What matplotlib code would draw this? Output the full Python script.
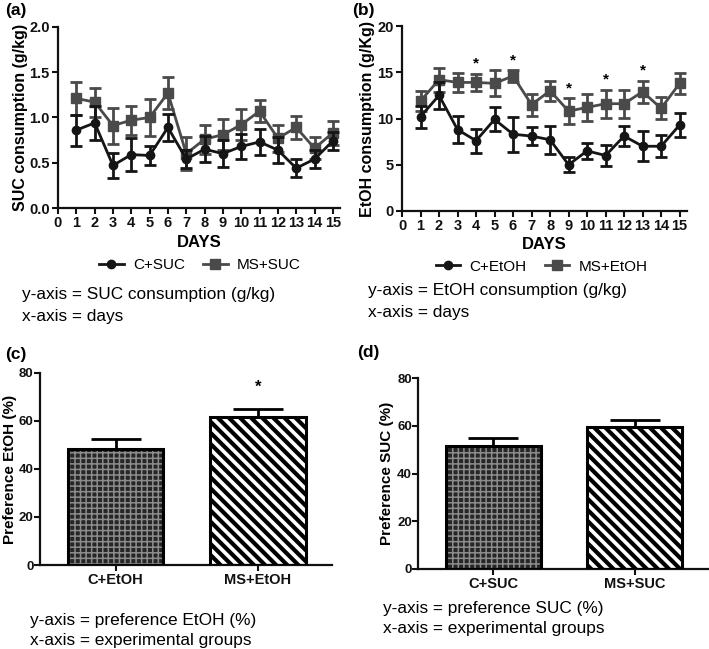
import numpy as np
import matplotlib
matplotlib.use('Agg')
import matplotlib.pyplot as plt
from matplotlib.lines import Line2D

plt.rcParams['font.family'] = ['Liberation Sans', 'DejaVu Sans']

days = np.arange(1, 16)

# (a) sucrose consumption (g/kg)
suc_c_mean = [0.86, 0.94, 0.47, 0.59, 0.58, 0.89, 0.54, 0.65, 0.60, 0.68, 0.73, 0.64, 0.44, 0.54, 0.74]
suc_c_err = [0.17, 0.19, 0.14, 0.18, 0.11, 0.15, 0.10, 0.14, 0.15, 0.14, 0.14, 0.14, 0.10, 0.10, 0.10]
suc_ms_mean = [1.21, 1.17, 0.91, 0.97, 1.00, 1.27, 0.60, 0.76, 0.81, 0.92, 1.07, 0.77, 0.89, 0.66, 0.83]
suc_ms_err = [0.18, 0.16, 0.20, 0.16, 0.20, 0.18, 0.18, 0.16, 0.17, 0.17, 0.12, 0.15, 0.13, 0.12, 0.13]

# (b) ethanol consumption (g/kg)
etoh_c_mean = [10.2, 12.5, 8.8, 7.6, 9.9, 8.3, 8.1, 7.7, 5.0, 6.5, 6.0, 8.1, 7.0, 7.0, 9.3]
etoh_c_err = [1.2, 1.5, 1.5, 1.3, 1.3, 1.9, 1.0, 1.5, 0.8, 0.9, 1.1, 1.1, 1.6, 1.2, 1.3]
etoh_ms_mean = [11.9, 14.2, 13.9, 13.9, 13.8, 14.6, 11.5, 13.0, 10.8, 11.2, 11.6, 11.6, 12.9, 11.1, 13.8]
etoh_ms_err = [1.1, 1.3, 1.0, 0.9, 1.4, 0.6, 1.2, 1.1, 1.4, 1.5, 1.5, 1.5, 1.2, 1.2, 1.1]
etoh_star_days = [4, 6, 9, 11, 13]

# (c) / (d) preference (%)
pref_etoh_groups = ['C+EtOH', 'MS+EtOH']
pref_etoh_mean = [48.3, 61.5]
pref_etoh_err = [4.1, 3.5]
pref_etoh_star = [False, True]

pref_suc_groups = ['C+SUC', 'MS+SUC']
pref_suc_mean = [51.4, 59.5]
pref_suc_err = [3.5, 3.1]

C_COL = '#151515'
MS_COL = '#4a4a4a'


def style_axes(ax, labelsize=11, ypad=2):
    for s in ['top', 'right']:
        ax.spines[s].set_visible(False)
    for s in ['left', 'bottom']:
        ax.spines[s].set_linewidth(1.6)
        ax.spines[s].set_color('#111111')
    ax.tick_params(width=1.5, length=4, labelsize=labelsize, colors='#111111', pad=2)
    ax.tick_params(axis='y', pad=ypad)
    for lab in ax.get_xticklabels() + ax.get_yticklabels():
        lab.set_fontweight('bold')


def line_panel(ax, c_mean, c_err, ms_mean, ms_err, ylim, yticks, yfmt, ylabel, labels,
               legend_xy, label_x):
    ax.errorbar(days, c_mean, yerr=c_err, color=C_COL, marker='o', ms=6, lw=2,
                elinewidth=2, capsize=4, capthick=2, zorder=3)
    ax.errorbar(days, ms_mean, yerr=ms_err, color=MS_COL, marker='s', ms=6.5, lw=2,
                elinewidth=2, capsize=4, capthick=2, zorder=2)
    ax.set_xlim(0, 15.4)
    ax.set_ylim(*ylim)
    ax.set_xticks(np.arange(0, 16))
    ax.set_yticks(yticks)
    ax.set_yticklabels([yfmt.format(v) for v in yticks])
    ax.set_xlabel('DAYS', fontsize=12, fontweight='bold', labelpad=3)
    ax.set_ylabel(ylabel, fontsize=11.5, fontweight='bold')
    ax.yaxis.set_label_coords(label_x, 0.5)
    style_axes(ax, labelsize=10.5)
    handles = [Line2D([], [], color=C_COL, marker='o', ms=6, lw=2),
               Line2D([], [], color=MS_COL, marker='s', ms=6.5, lw=2)]
    fig.legend(handles, labels, loc='center', bbox_to_anchor=legend_xy, ncol=2,
               frameon=False, fontsize=11, handlelength=1.6, columnspacing=1.2,
               handletextpad=0.6)


def bar_panel(ax, groups, mean, err, ylabel, label_x, stars=None):
    x = np.arange(len(groups))
    # brick-like textured bar, then striped bar
    tex = ax.bar(x[0], mean[0], width=0.67, color='#262626', edgecolor='#8c8c8c',
                 hatch='+++', linewidth=0, zorder=2)
    stripe = ax.bar(x[1], mean[1], width=0.67, color='white', edgecolor='black',
                    hatch='\\\\\\', linewidth=0, zorder=2)
    for p in tex:
        if hasattr(p, 'set_hatch_linewidth'):
            p.set_hatch_linewidth(1.1)
    for p in stripe:
        if hasattr(p, 'set_hatch_linewidth'):
            p.set_hatch_linewidth(3.0)
    ax.bar(x, mean, width=0.67, fill=False, edgecolor='black', linewidth=2.2, zorder=3)
    ax.errorbar(x, mean, yerr=[np.zeros(len(x)), err], fmt='none', ecolor='black',
                elinewidth=2, capsize=18, capthick=2, zorder=1)
    if stars:
        for xi, m, e, st in zip(x, mean, err, stars):
            if st:
                ax.text(xi, m + e + 9, '*', ha='center', va='center', fontsize=12,
                        fontweight='bold')
    ax.set_xlim(-0.53, 1.52)
    ax.set_ylim(0, 80)
    ax.set_yticks([0, 20, 40, 60, 80])
    ax.set_xticks(x)
    ax.set_xticklabels(groups)
    ax.set_ylabel(ylabel, fontsize=11, fontweight='bold')
    ax.yaxis.set_label_coords(label_x, 0.5)
    style_axes(ax, labelsize=10.5, ypad=0.5)
    for lab in ax.get_yticklabels():
        lab.set_fontsize(9.5)


plt.rcParams['hatch.linewidth'] = 2.5
fig = plt.figure(figsize=(7.09, 6.49), dpi=100)

ax_a = fig.add_axes([0.0818, 0.6795, 0.398, 0.279])
line_panel(ax_a, suc_c_mean, suc_c_err, suc_ms_mean, suc_ms_err, (0, 2.0),
           [0.0, 0.5, 1.0, 1.5, 2.0], '{:.1f}', 'SUC consumption (g/kg)',
           ['C+SUC', 'MS+SUC'], (0.282, 0.5917), -0.106)

ax_b = fig.add_axes([0.567, 0.6749, 0.402, 0.285])
line_panel(ax_b, etoh_c_mean, etoh_c_err, etoh_ms_mean, etoh_ms_err, (0, 20),
           [0, 5, 10, 15, 20], '{:d}', 'EtOH consumption (g/Kg)',
           ['C+EtOH', 'MS+EtOH'], (0.764, 0.589), -0.095)
for d in etoh_star_days:
    i = d - 1
    ax_b.text(d, etoh_ms_mean[i] + etoh_ms_err[i] + 1.1, '*', ha='center', va='center',
              fontsize=11, fontweight='bold')

ax_c = fig.add_axes([0.0564, 0.1294, 0.412, 0.296])
bar_panel(ax_c, pref_etoh_groups, pref_etoh_mean, pref_etoh_err, 'Preference EtOH (%)',
          -0.08, pref_etoh_star)

ax_d = fig.add_axes([0.5896, 0.1233, 0.41, 0.294])
bar_panel(ax_d, pref_suc_groups, pref_suc_mean, pref_suc_err, 'Preference SUC (%)', -0.082)

# panel letters
for x, y, s in [(5, 10, '(a)'), (352, 10, '(b)'), (5, 355, '(c)'), (357, 353, '(d)')]:
    fig.text(x / 709, 1 - y / 649, s, fontsize=12.5, fontweight='bold', va='center')

# axis descriptions
captions = [
    (22, 295, 'y-axis = SUC consumption (g/kg)'),
    (22, 316, 'x-axis = days'),
    (368, 290, 'y-axis = EtOH consumption (g/kg)'),
    (368, 312, 'x-axis = days'),
    (30, 620, 'y-axis = preference EtOH (%)'),
    (30, 641, 'x-axis = experimental groups'),
    (383, 608, 'y-axis = preference SUC (%)'),
    (383, 629, 'x-axis = experimental groups'),
]
for x, y, s in captions:
    fig.text(x / 709, 1 - y / 649, s, fontsize=12.4, va='center')

fig.savefig('out.png', dpi=100)
